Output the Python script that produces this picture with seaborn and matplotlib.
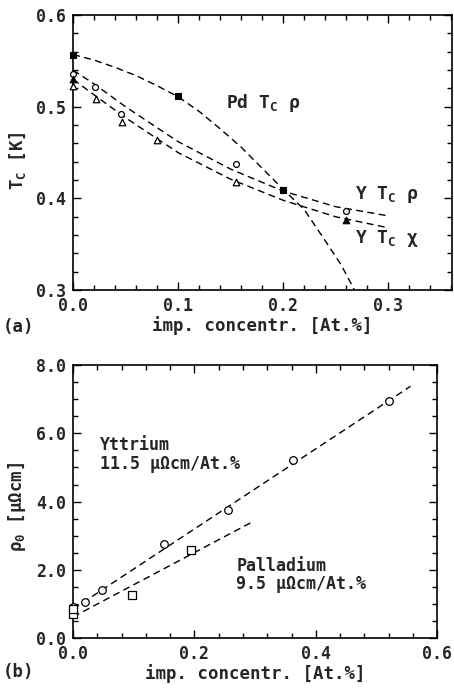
import numpy as np
import pandas as pd
import matplotlib
matplotlib.use("Agg")
import matplotlib.pyplot as plt
from matplotlib.ticker import MultipleLocator, FormatStrFormatter
import seaborn as sns

# ---------------- data: panel (a) ----------------
pd_tc_x = [0.0, 0.1, 0.2]
pd_tc_y = [0.556, 0.512, 0.409]
y_rho_x = [0.0, 0.021, 0.046, 0.155, 0.26]
y_rho_y = [0.536, 0.522, 0.492, 0.438, 0.386]
y_chi_x = [0.0, 0.022, 0.047, 0.080, 0.155]
y_chi_y = [0.523, 0.509, 0.483, 0.464, 0.418]
y_chi_f_x = [0.0, 0.26]
y_chi_f_y = [0.530, 0.377]

# dashed guide curves
pd_curve_x = [0.0, 0.02, 0.04, 0.06, 0.08, 0.10, 0.12, 0.14, 0.16, 0.18, 0.20, 0.22, 0.24, 0.255, 0.268]
pd_curve_y = [0.557, 0.551, 0.543, 0.534, 0.523, 0.511, 0.495, 0.476, 0.456, 0.433, 0.410, 0.388, 0.354, 0.328, 0.300]
yrho_curve_x = [0.0, 0.02, 0.05, 0.10, 0.15, 0.20, 0.25, 0.30]
yrho_curve_y = [0.540, 0.525, 0.500, 0.462, 0.432, 0.408, 0.391, 0.381]
ychi_curve_x = [0.0, 0.02, 0.05, 0.10, 0.15, 0.20, 0.25, 0.30]
ychi_curve_y = [0.530, 0.513, 0.488, 0.450, 0.421, 0.398, 0.380, 0.368]

# ---------------- data: panel (b) ----------------
yt_x = [0.0, 0.020, 0.047, 0.150, 0.256, 0.363, 0.520]
yt_y = [0.90, 1.05, 1.40, 2.75, 3.75, 5.21, 6.95]
pdr_x = [0.0, 0.0, 0.097, 0.194]
pdr_y = [0.70, 0.84, 1.27, 2.58]
yt_line_x = [0.0, 0.556]
yt_line_y = [0.85, 7.38]
pdr_line_x = [0.0, 0.297]
pdr_line_y = [0.62, 3.42]

sns.set_style("ticks")
FONT = "DejaVu Sans Mono"
plt.rcParams["font.family"] = [FONT, "DejaVu Sans"]
plt.rcParams["font.weight"] = "bold"
plt.rcParams["axes.labelweight"] = "bold"
plt.rcParams["mathtext.default"] = "regular"

fig = plt.figure(figsize=(4.54, 6.89), dpi=100)
ax1 = fig.add_axes([0.161, 0.579, 0.835, 0.399])
ax2 = fig.add_axes([0.161, 0.074, 0.802, 0.396])

dash = (0, (5.0, 3.2))
lc = "black"

def curve(ax, x, y):
    sns.lineplot(x=x, y=y, ax=ax, color=lc, lw=1.0, sort=False,
                 estimator=None, legend=False).lines[-1].set_linestyle(dash)

# panel a
curve(ax1, pd_curve_x, pd_curve_y)
curve(ax1, yrho_curve_x, yrho_curve_y)
curve(ax1, ychi_curve_x, ychi_curve_y)
kw = dict(clip_on=False, legend=False, zorder=5)
sns.scatterplot(x=pd_tc_x, y=pd_tc_y, ax=ax1, marker="s", s=13, color="black", edgecolor="black", linewidth=0.8, **kw)
sns.scatterplot(x=y_rho_x, y=y_rho_y, ax=ax1, marker="o", s=18, facecolor="white", edgecolor="black", linewidth=0.9, **kw)
sns.scatterplot(x=y_chi_x, y=y_chi_y, ax=ax1, marker="^", s=22, facecolor="white", edgecolor="black", linewidth=0.9, **kw)
sns.scatterplot(x=y_chi_f_x, y=y_chi_f_y, ax=ax1, marker="^", s=22, color="black", edgecolor="black", linewidth=0.8, **kw)

ax1.set_xlim(0, 0.361)
ax1.set_ylim(0.3, 0.6)
ax1.xaxis.set_major_locator(MultipleLocator(0.1))
ax1.xaxis.set_minor_locator(MultipleLocator(0.02))
ax1.yaxis.set_major_locator(MultipleLocator(0.1))
ax1.yaxis.set_minor_locator(MultipleLocator(0.02))
ax1.xaxis.set_major_formatter(FormatStrFormatter("%.1f"))
ax1.yaxis.set_major_formatter(FormatStrFormatter("%.1f"))

tfs = 13
ax1.text(0.146, 0.504, r"Pd T$_C$ ρ", fontsize=tfs, va="center", ha="left")
ax1.text(0.268, 0.404, r"Y T$_C$ ρ", fontsize=tfs, va="center", ha="left")
ax1.text(0.268, 0.356, r"Y T$_C$ χ", fontsize=tfs, va="center", ha="left")

# panel b
curve(ax2, yt_line_x, yt_line_y)
curve(ax2, pdr_line_x, pdr_line_y)
sns.scatterplot(x=yt_x, y=yt_y, ax=ax2, marker="o", s=30, facecolor="white", edgecolor="black", linewidth=0.9, **kw)
sns.scatterplot(x=pdr_x, y=pdr_y, ax=ax2, marker="s", s=28, facecolor="white", edgecolor="black", linewidth=0.9, **kw)

ax2.set_xlim(0, 0.6)
ax2.set_ylim(0, 8.0)
ax2.xaxis.set_major_locator(MultipleLocator(0.2))
ax2.xaxis.set_minor_locator(MultipleLocator(0.04))
ax2.yaxis.set_major_locator(MultipleLocator(2.0))
ax2.yaxis.set_minor_locator(MultipleLocator(0.5))
ax2.xaxis.set_major_formatter(FormatStrFormatter("%.1f"))
ax2.yaxis.set_major_formatter(FormatStrFormatter("%.1f"))

bfs = 12
ax2.text(0.045, 5.65, "Yttrium", fontsize=bfs, va="center", ha="left")
ax2.text(0.045, 5.10, "11.5 μΩcm/At.%", fontsize=bfs, va="center", ha="left")
ax2.text(0.269, 2.12, "Palladium", fontsize=bfs, va="center", ha="left")
ax2.text(0.269, 1.58, "9.5 μΩcm/At.%", fontsize=bfs, va="center", ha="left")

for ax in (ax1, ax2):
    for sp in ax.spines.values():
        sp.set_visible(True)
        sp.set_linewidth(1.2)
        sp.set_color("black")
    ax.tick_params(which="both", direction="in", top=True, right=True, color="black", width=1.0)
    ax.tick_params(which="major", length=6, labelsize=12, pad=5)
    ax.tick_params(which="minor", length=3.5)
    ax.set_xlabel("imp. concentr. [At.%]", fontsize=12.5, labelpad=1)

ax1.set_ylabel(r"T$_C$ [K]", fontsize=12.5)
ax2.set_ylabel(r"ρ$_0$ [μΩcm]", fontsize=12.5)
ax1.yaxis.set_label_coords(-0.12, 0.47)
ax2.yaxis.set_label_coords(-0.124, 0.48)

fig.text(0.007, 0.525, "(a)", fontsize=12.5, va="center", ha="left")
fig.text(0.007, 0.025, "(b)", fontsize=12.5, va="center", ha="left")

fig.savefig("out.png", dpi=100, facecolor="white")
